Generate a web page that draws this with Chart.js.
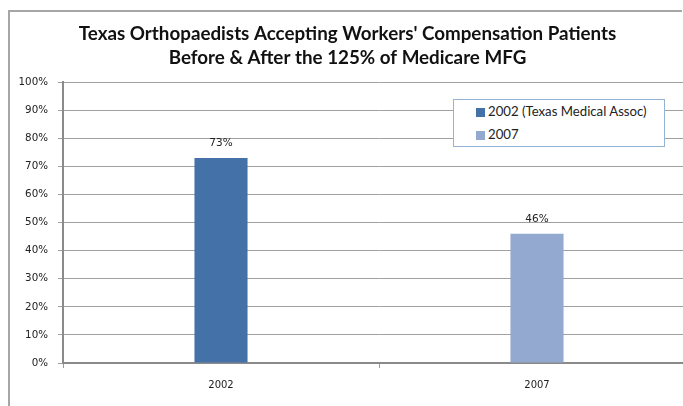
<!DOCTYPE html>
<html>
<head>
<meta charset="utf-8">
<script src="https://cdn.jsdelivr.net/npm/chart.js@4"></script>
<style>
  html, body { margin: 0; padding: 0; background: #fff; overflow: hidden; }
  .wrap { position: relative; width: 683px; height: 406px; overflow: hidden; background: #fff; }
  .frame { position: absolute; left: 8px; top: 10px; width: 672px; height: 396px;
           border-left: 2px solid #a6a6a6; border-top: 2px solid #a6a6a6; }
  canvas { position: absolute; left: 0; top: 0; }
  .legend { position: absolute; left: 453px; top: 99px; width: 210px; height: 46px;
            border: 1px solid #95b3d7; background: #fff; font-family: Lato, sans-serif;
            font-size: 13.2px; color: #222; }
  .legend ul { list-style: none; margin: 0; padding: 3px 0 0 22px; }
  .legend li { height: 23px; line-height: 17px; white-space: nowrap; }
  .legend li span { display: inline-block; width: 9px; height: 9px; margin-right: 3px; vertical-align: -1px; }
</style>
</head>
<body>
<div class="wrap">
  <div class="frame"></div>
  <canvas id="c" width="700" height="406"></canvas>
  <div class="legend"><ul></ul></div>
</div>
<script>
const categories = ["2002", "2007"];
const seriesNames = ["2002 (Texas Medical Assoc)", "2007"];
const values2002 = [73, null];
const values2007 = [null, 46];
const yTicks = [0, 10, 20, 30, 40, 50, 60, 70, 80, 90, 100];
const colors = ["#4472a8", "#93a9d0"];

const barLabels = {
  id: "barLabels",
  afterDatasetsDraw(chart) {
    const ctx = chart.ctx;
    ctx.save();
    ctx.font = "10.5px 'DejaVu Sans', sans-serif";
    ctx.fillStyle = "#222";
    ctx.textAlign = "center";
    ctx.textBaseline = "bottom";
    chart.data.datasets.forEach((ds, i) => {
      chart.getDatasetMeta(i).data.forEach((bar, j) => {
        if (ds.data[j] == null) return;
        ctx.fillText(ds.data[j] + "%", bar.x, bar.y - 9);
      });
    });
    ctx.restore();
  }
};

const chart = new Chart(document.getElementById("c"), {
  type: "bar",
  data: {
    labels: categories,
    datasets: [
      { label: seriesNames[0], data: values2002, backgroundColor: colors[0] },
      { label: seriesNames[1], data: values2007, backgroundColor: colors[1] },
    ],
  },
  options: {
    responsive: false,
    animation: false,
    skipNull: true,
    barPercentage: 0.168,
    categoryPercentage: 1,
    layout: { padding: { left: 0, right: 5, top: 0, bottom: 0 } },
    plugins: {
      legend: { display: false },
      tooltip: { enabled: false },
      title: {
        display: true,
        text: ["Texas Orthopaedists Accepting Workers' Compensation Patients",
               "Before & After the 125% of Medicare MFG"],
        font: { family: "Lato, sans-serif", size: 18.8, weight: "bold", lineHeight: 1.28 },
        color: "#111",
        padding: { top: 22, bottom: 12 },
      },
    },
    scales: {
      x: {
        grid: { drawOnChartArea: false, tickLength: 5, color: "#999" },
        border: { color: "#8a8a8a", width: 2 },
        ticks: { font: { family: "'DejaVu Sans', sans-serif", size: 10 }, color: "#222", padding: 11 },
        afterFit(scale) { scale.height = 43; },
      },
      y: {
        min: 0,
        max: 100,
        afterBuildTicks(scale) { scale.ticks = yTicks.map(v => ({ value: v })); },
        grid: { color: "#a0a0a0", tickLength: 5 },
        border: { color: "#8a8a8a", width: 2 },
        ticks: {
          font: { family: "'DejaVu Sans', sans-serif", size: 10.3 },
          color: "#222",
          padding: 10,
          callback: v => v + "%",
        },
        afterFit(scale) { scale.width = 63; },
      },
    },
  },
  plugins: [barLabels],
});

const ul = document.querySelector(".legend ul");
chart.data.datasets.forEach((ds) => {
  const li = document.createElement("li");
  li.innerHTML = `<span style="background:${ds.backgroundColor}"></span>${ds.label}`;
  ul.appendChild(li);
});
</script>
</body>
</html>
